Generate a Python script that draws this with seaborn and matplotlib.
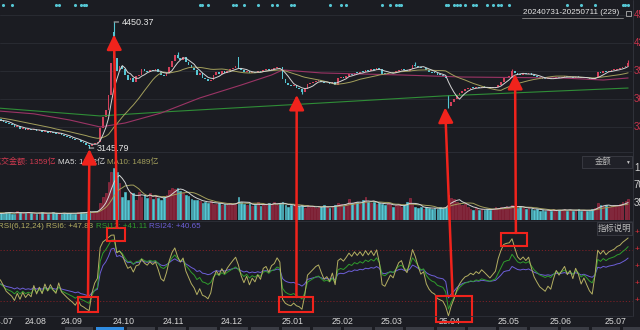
import numpy as np
import pandas as pd
import matplotlib
matplotlib.use("Agg")
import matplotlib.pyplot as plt
from matplotlib.patches import Rectangle, ConnectionPatch
import seaborn as sns

# ---------------- data ----------------
date_start, date_end = "20240731", "20250711"

# daily closes, 2024-07-31 .. 2025-07-11
closes = [
    3445, 3436, 3420, 3400, 3390,
    3380, 3360, 3370, 3345, 3355, 3335, 3340,
    3330, 3345, 3320, 3330, 3310, 3325, 3305, 3315,
    3300, 3290, 3305, 3280, 3270, 3260, 3250,
    3240, 3225, 3230, 3205, 3195, 3180,
    3165,
    3185, 3200, 3208,
    3353, 3467, 3540, 3690, 4026,
    4080, 3940, 3990, 3960,
    3900, 3850, 3870, 3830, 3890,
    3900, 3960, 3940, 3930, 3955, 3945, 3960, 3935,
    3900, 3890, 3920, 3980, 4050, 4110, 4080, 4060, 4090, 4040, 4010,
    3975, 3950, 3900, 3920, 3870, 3860, 3840, 3855,
    3900, 3930, 3915, 3940, 3925, 3945, 3960, 3975, 3990,
    3975,
    3950, 3930, 3945, 3920, 3935, 3925, 3940, 3930, 3955, 3960, 3950, 3965, 3970, 3985, 3980,
    3860, 3820, 3800, 3790, 3795, 3770, 3760, 3730, 3755,
    3810, 3820, 3830, 3840, 3845, 3830, 3815, 3820, 3810, 3825,
    3800, 3870, 3880, 3875, 3890, 3910, 3905, 3925, 3920, 3935, 3930, 3950, 3945, 3960, 3955, 3975, 3960, 3915,
    3910, 3920, 3930, 3925, 3940, 3955, 3960, 3950, 3945, 3965, 4010, 4000, 3985, 3970, 3975, 3950, 3935, 3925, 3920, 3905,
    3900, 3895, 3870, 3580, 3620, 3650, 3690, 3720, 3740, 3755, 3760, 3770, 3765, 3775, 3770, 3780, 3775, 3770, 3765, 3770, 3775,
    3800, 3830, 3870, 3880, 3885, 3940, 3925, 3910, 3905, 3915, 3910, 3920, 3905, 3890, 3880, 3870, 3865, 3860, 3865,
    3860, 3870, 3880, 3875, 3880, 3885, 3878, 3882, 3875, 3885, 3880, 3870, 3875, 3868, 3860, 3855, 3870, 3930, 3925, 3940,
    3935, 3945, 3950, 3955, 3965, 3970, 3985, 4000, 4025,
]
pre_closes = [3505, 3498, 3490, 3482, 3488, 3475, 3470, 3478, 3465, 3458,
              3462, 3450, 3445, 3452, 3440, 3432, 3428, 3420, 3425]
gap_opens = {42: 4350, 87: 4085, 163: 3695}
wick_highs = {42: 4450.37, 65: 4135, 151: 4035, 186: 3960, 228: 4060}
wick_lows = {33: 3145.79, 110: 3705, 163: 3560}

# turnover, 亿
amounts = [
    1359, 1480, 1450, 1700, 1600, 1300, 1250, 1800, 1550, 1400, 1350, 1600, 1500, 1300, 1200, 1450,
    1700, 1350, 1250, 1300, 1550, 1400, 1200, 1300, 1500, 1350, 1450, 1250, 1300, 1600, 1550, 1700,
    1500, 1900, 1700, 1650,
    1800, 3470, 4700, 5500, 7750, 9800, 10600, 9800, 7550, 4700,
    5700, 4100, 5700, 5500, 4100, 5700, 4700, 5200, 4500, 5500, 4300, 5000, 4400,
    4100, 4600, 5100, 6100, 6500, 6400, 6600, 6000, 5500, 5000, 4800,
    4300, 4100, 4000, 3900, 3500, 3700, 3400, 3900, 3300, 3200, 3400, 3100, 3300, 3000, 3400, 3200, 3500,
    4700, 3600, 3300, 3000, 3400, 2900, 3100, 3600, 2800, 3300, 3000, 3500, 3200, 3700, 3100, 3400,
    3700, 3000, 2700, 3100, 2800, 2600, 2900, 3000, 2500, 3100, 2600, 2800, 2400, 2700, 2600, 3000, 2700, 2500, 2800,
    3100, 3500, 3200, 2900, 3300, 4200, 3400, 3600, 3700, 3300, 4000, 4700, 3700, 3400, 3600, 3200, 3500, 3300,
    3100, 3400, 3200, 2600, 3000, 3300, 2700, 3000, 3600, 4400, 3200, 2700, 2500, 2600, 2300, 2700, 2400, 2200, 2500, 2300,
    2600, 2400, 2700, 5100, 4400, 4200, 3600, 3400, 3000, 3200, 2700, 2300, 2100, 2400, 2000, 2300, 2100, 2200, 2000, 2300, 2600,
    2400, 2700, 2500, 2800, 2600, 3100, 2700, 2500, 2800, 2400, 2300, 2500, 2200, 2000, 2300, 1900, 2100, 1800, 2000,
    1900, 2200, 1800, 2100, 2000, 2300, 1900, 2100, 1800, 2000, 2200, 1900, 2000, 1800, 2000, 2300, 2500, 3500, 3100, 2900,
    3000, 2700, 2900, 3100, 2800, 3200, 3600, 3900, 4300,
]
pre_amounts = [1750, 1620, 1700, 1680, 1680, 1320, 1250, 1290, 1241]

# long moving averages (MA60, MA250) read at selected sessions
ma60_days = [0, 13, 26, 37, 46, 59, 73, 88, 99, 103, 117, 146, 168, 204, 219, 228]
ma60_vals = [3530, 3500, 3436, 3364, 3405, 3508, 3664, 3798, 3902, 3954, 3923, 3902, 3881, 3871, 3850, 3871]
ma250_days = [0, 37, 59, 117, 161, 228]
ma250_vals = [3560, 3478, 3518, 3612, 3685, 3767]

rsi_start = {6: 47.83, 12: 41.11, 24: 40.65}
rsi_seed_move = 22.0

signal_days = [2, 5, 21, 22, 28, 30, 31, 32, 73, 74, 76, 85, 86, 89, 94, 99, 101, 106, 107,
               120, 124, 126, 139, 142, 144, 145, 146, 162, 163, 165, 166, 167, 169, 172, 173,
               177, 179, 181, 182, 185, 206, 211, 216, 226, 227, 228]

month_labels = ["24.07", "24.08", "24.09", "24.10", "24.11", "24.12", "25.01",
                "25.02", "25.03", "25.04", "25.05", "25.06", "25.07"]
month_first_day = [-1.8, 10, 23, 42, 60, 81, 103, 121, 139, 160, 181, 200, 220]

price_ticks = [4523, 4233, 3943, 3653, 3363]
amount_ticks = [10600, 7067, 3533]
amount_tick_labels = ["1.06万", "7067", "3533"]
rsi_ticks = [100, 80, 60, 40, 20]

# ---------------- derived series ----------------
closes = np.array(closes, float)
n = len(closes)
idx = np.arange(n)
opens = np.r_[pre_closes[-1], closes[:-1]]
for k, v in gap_opens.items():
    opens[k] = v
up = closes >= opens

full = pd.Series(np.r_[pre_closes, closes])
ma5 = full.rolling(5).mean().values[len(pre_closes):]
ma20 = full.rolling(20).mean().values[len(pre_closes):]

amounts = np.array(amounts, float)
amt_full = pd.Series(np.r_[pre_amounts, amounts])
amt_ma5 = amt_full.rolling(5).mean().values[len(pre_amounts):]
amt_ma10 = amt_full.rolling(10).mean().values[len(pre_amounts):]

diff = np.diff(closes)
gain = np.clip(diff, 0, None)
move = np.abs(diff)


def cn_rsi(period, first):
    u = [first / 100 * rsi_seed_move]
    d = [rsi_seed_move]
    for g, m in zip(gain, move):
        u.append((g + (period - 1) * u[-1]) / period)
        d.append((m + (period - 1) * d[-1]) / period)
    return np.array(u) / np.array(d) * 100


rsi = {p: cn_rsi(p, v) for p, v in rsi_start.items()}

df = pd.DataFrame({"day": idx, "ma5": ma5, "ma20": ma20,
                   "amt_ma5": amt_ma5, "amt_ma10": amt_ma10,
                   "rsi6": rsi[6], "rsi12": rsi[12], "rsi24": rsi[24]})

# ---------------- style ----------------
BG = "#1b1c22"
UP = "#d3405a"
DOWN = "#55c6d3"
VOL_UP = "#7c1e32"
VOL_UP_EDGE = "#ad324b"
C_MA5 = "#d4d4d4"
C_MA20 = "#a39f5c"
C_MA60 = "#9b3465"
C_MA250 = "#2f8d37"
C_R6 = "#b4af62"
C_R12 = "#2f9c2c"
C_R24 = "#6d5fd8"
C_PRICE_LBL = "#c8344c"
PEN = "#f0231c"
GRID = "#2b2d35"

sns.set_theme(style="dark", rc={"axes.facecolor": BG, "figure.facecolor": BG})
plt.rcParams["font.family"] = ["Liberation Sans", "Noto Sans CJK SC", "DejaVu Sans"]

W, H = 640, 330
fig = plt.figure(figsize=(W / 100, H / 100), dpi=100)
fig.patch.set_facecolor(BG)


def px_rect(x0, y0, x1, y1):
    return [x0 / W, 1 - y1 / H, (x1 - x0) / W, (y1 - y0) / H]


ax_p = fig.add_axes(px_rect(0, 0, 632, 152))
ax_v = fig.add_axes(px_rect(0, 152, 632, 220))
ax_r = fig.add_axes(px_rect(0, 221, 632, 316))
XLIM = (0.76, 229.4)
for ax in (ax_p, ax_v, ax_r):
    ax.set_facecolor(BG)
    for s in ax.spines.values():
        s.set_visible(False)
    ax.grid(False)

# ---------------- price panel ----------------
for v in price_ticks:
    ax_p.axhline(v, color=GRID, lw=0.6, zorder=0)
    ax_p.text(1.003, v, f"{v}", transform=ax_p.get_yaxis_transform(), color=C_PRICE_LBL,
              fontsize=7, va="center", ha="left", clip_on=False)

body_lo = np.minimum(opens, closes)
body_h = np.maximum(np.abs(closes - opens), 9)
colors = np.where(up, UP, DOWN)
for k in sorted(set(wick_highs) | set(wick_lows)):
    hi = wick_highs.get(k, max(opens[k], closes[k]))
    lo = wick_lows.get(k, min(opens[k], closes[k]))
    ax_p.vlines(k, lo, hi, color=colors[k], lw=0.8, zorder=2)
ax_p.bar(idx, body_h, bottom=body_lo, width=0.62, color=colors, linewidth=0, zorder=3)

sns.lineplot(x=ma250_days, y=ma250_vals, ax=ax_p, color=C_MA250, lw=0.8, zorder=4)
sns.lineplot(x=ma60_days, y=ma60_vals, ax=ax_p, color=C_MA60, lw=0.8, zorder=4)
sns.lineplot(data=df, x="day", y="ma20", ax=ax_p, color=C_MA20, lw=0.7, zorder=5)
sns.lineplot(data=df, x="day", y="ma5", ax=ax_p, color=C_MA5, lw=0.7, zorder=6)

hi_day = max(wick_highs, key=wick_highs.get)
lo_day = min(wick_lows, key=wick_lows.get)
for day, val in ((hi_day, wick_highs[hi_day]), (lo_day, wick_lows[lo_day])):
    ax_p.annotate(f"{val:.2f}", xy=(day, val), xytext=(8, 0), textcoords="offset pixels",
                  color="#e4e4e4", fontsize=6.5, va="center", ha="left",
                  arrowprops=dict(arrowstyle="-", color="#e4e4e4", lw=0.6, shrinkA=0, shrinkB=0),
                  annotation_clip=False, zorder=8)

ax_p.scatter(signal_days, [0.967] * len(signal_days), transform=ax_p.get_xaxis_transform(),
             s=5, color=DOWN, linewidths=0, zorder=7, clip_on=False)

ax_p.set_xlim(*XLIM)
ax_p.set_ylim(3104.9, 4678.1)

# ---------------- turnover panel ----------------
ax_v.bar(idx, amounts, width=0.62, color=np.where(up, VOL_UP, DOWN),
         edgecolor=np.where(up, VOL_UP_EDGE, DOWN), linewidth=0.4, zorder=2)
sns.lineplot(data=df, x="day", y="amt_ma10", ax=ax_v, color=C_MA20, lw=0.7, zorder=4)
sns.lineplot(data=df, x="day", y="amt_ma5", ax=ax_v, color=C_MA5, lw=0.7, zorder=5)
for v, lab in zip(amount_ticks, amount_tick_labels):
    ax_v.text(1.003, v, lab, transform=ax_v.get_yaxis_transform(), color="#d0d0d0",
              fontsize=7, va="center", ha="left", clip_on=False)
ax_v.set_xlim(*XLIM)
ax_v.set_ylim(0, 68 * 204)

# ---------------- RSI panel ----------------
for lvl in (80, 20):
    ax_r.axhline(lvl, color="#7c2026", lw=0.7, ls=(0, (1.2, 2)), zorder=1)
for col, c in (("rsi24", C_R24), ("rsi12", C_R12), ("rsi6", C_R6)):
    sns.lineplot(data=df, x="day", y=col, ax=ax_r, color=c, lw=0.7, zorder=4)
for line in ax_r.get_lines():
    line.set_clip_on(False)
for t in rsi_ticks:
    ax_r.text(1.004, t, "+", transform=ax_r.get_yaxis_transform(), color="#e0303a",
              fontsize=6, va="center", ha="left", clip_on=False)
for d, lab in zip(month_first_day, month_labels):
    ax_r.text(d - 0.4, -0.063, lab, transform=ax_r.get_xaxis_transform(), color="#d6d6d6",
              fontsize=6.3, va="center", ha="left", clip_on=False)
ax_r.set_xlim(*XLIM)
ax_r.set_ylim(2.35, 114.1)

for ax in (ax_p, ax_v, ax_r):
    ax.set_xlabel("")
    ax.set_ylabel("")
    ax.set_xticks([])
    ax.set_yticks([])
    leg = ax.get_legend()
    if leg:
        leg.remove()

# ---------------- frame lines and buttons ----------------
for y in (152, 221, 316):
    fig.add_artist(plt.Line2D([0, 632 / W], [1 - y / H] * 2, color="#2e3038", lw=0.6))
fig.add_artist(plt.Line2D([632.5 / W] * 2, [1 - 316 / H, 1], color="#34363e", lw=0.6))


def fig_box(x0, y0, x1, y1, fc, ec):
    fig.add_artist(Rectangle((x0 / W, 1 - y1 / H), (x1 - x0) / W, (y1 - y0) / H,
                             transform=fig.transFigure, facecolor=fc, edgecolor=ec, lw=0.6))


fig_box(582, 156, 632, 168, "#202128", "#3b3d45")
fig.text(603 / W, 1 - 162 / H, "金额", color="#b4b4b4", fontsize=6, ha="center", va="center")
fig.text(627 / W, 1 - 162 / H, "▼", color="#c8c8c8", fontsize=3.5, ha="center", va="center")
fig_box(597, 222, 632, 235, "#202128", "#3b3d45")
fig.text(614.5 / W, 1 - 228.5 / H, "指标说明", color="#bdbdbd", fontsize=6, ha="center", va="center")

tab_x = 65
k = 0
while tab_x < W:
    fig_box(tab_x, 327, tab_x + 28, 331, "#2f8be0" if k == 1 else "#3a3c44", "none")
    tab_x += 31
    k += 1

fig.text(523 / W, 1 - 12 / H, f"{date_start}-{date_end} ({n})", color="#e6e6e6",
         fontsize=5.9, ha="left", va="center")
fig.add_artist(plt.Line2D([522 / W, 623 / W], [1 - 18 / H] * 2, color="#8c8c8c", lw=0.6))
fig_box(625.5, 11, 631, 16, "none", "#b0b0b0")

renderer = fig.canvas.get_renderer()


def seq_text(x_px, y_px, parts, size):
    x = x_px
    for s, col in parts:
        t = fig.text(x / W, 1 - y_px / H, s, color=col, fontsize=size, ha="left", va="center")
        x += t.get_window_extent(renderer).width


seq_text(-7, 162, [(f"成交金额: {amounts[0]:.0f}亿 ", "#d23a50"),
                   (f"MA5: {amt_ma5[0]:.0f}亿 ", "#d8d8d8"),
                   (f"MA10: {amt_ma10[0]:.0f}亿", C_MA20)], 5.8)
seq_text(-2, 227, [("RSI(6,12,24) ", C_R6),
                   (f"RSI6: +{rsi[6][0]:.2f} ", C_R6),
                   (f"RSI12: +{rsi[12][0]:.2f} ", C_R12),
                   (f"RSI24: +{rsi[24][0]:.2f}", C_R24)], 5.75)

# ---------------- pen marks: boxes on RSI turns, arrows up to price ----------------
boxes = [(29.0, 36.2, 7.0, 24.7), (39.5, 46.0, 90.6, 106.0), (101.7, 114.0, 7.0, 24.7),
         (158.5, 171.5, -4.7, 25.9), (182.0, 191.4, 84.7, 100.0)]
for x0, x1, r0, r1 in boxes:
    ax_r.add_patch(Rectangle((x0, r0), x1 - x0, r1 - r0, fill=False, ec=PEN, lw=1.5,
                             clip_on=False, zorder=20))

arrows = [((32.6, 25.9), (33.1, 3135)), ((43.1, 106.0), (42.0, 4320)),
          ((108.0, 24.7), (108.1, 3695)), ((164.5, 25.9), (161.8, 3565)),
          ((187.4, 100.0), (187.1, 3912))]
for (ti, tr), (hi, hv) in arrows:
    fig.add_artist(ConnectionPatch(xyA=(ti, tr), coordsA=ax_r.transData,
                                   xyB=(hi, hv), coordsB=ax_p.transData,
                                   arrowstyle="-|>,head_length=0.9,head_width=0.45",
                                   mutation_scale=10, color=PEN, lw=1.8,
                                   shrinkA=0, shrinkB=0, zorder=30))

fig.savefig("out.png", dpi=100, facecolor=BG)
